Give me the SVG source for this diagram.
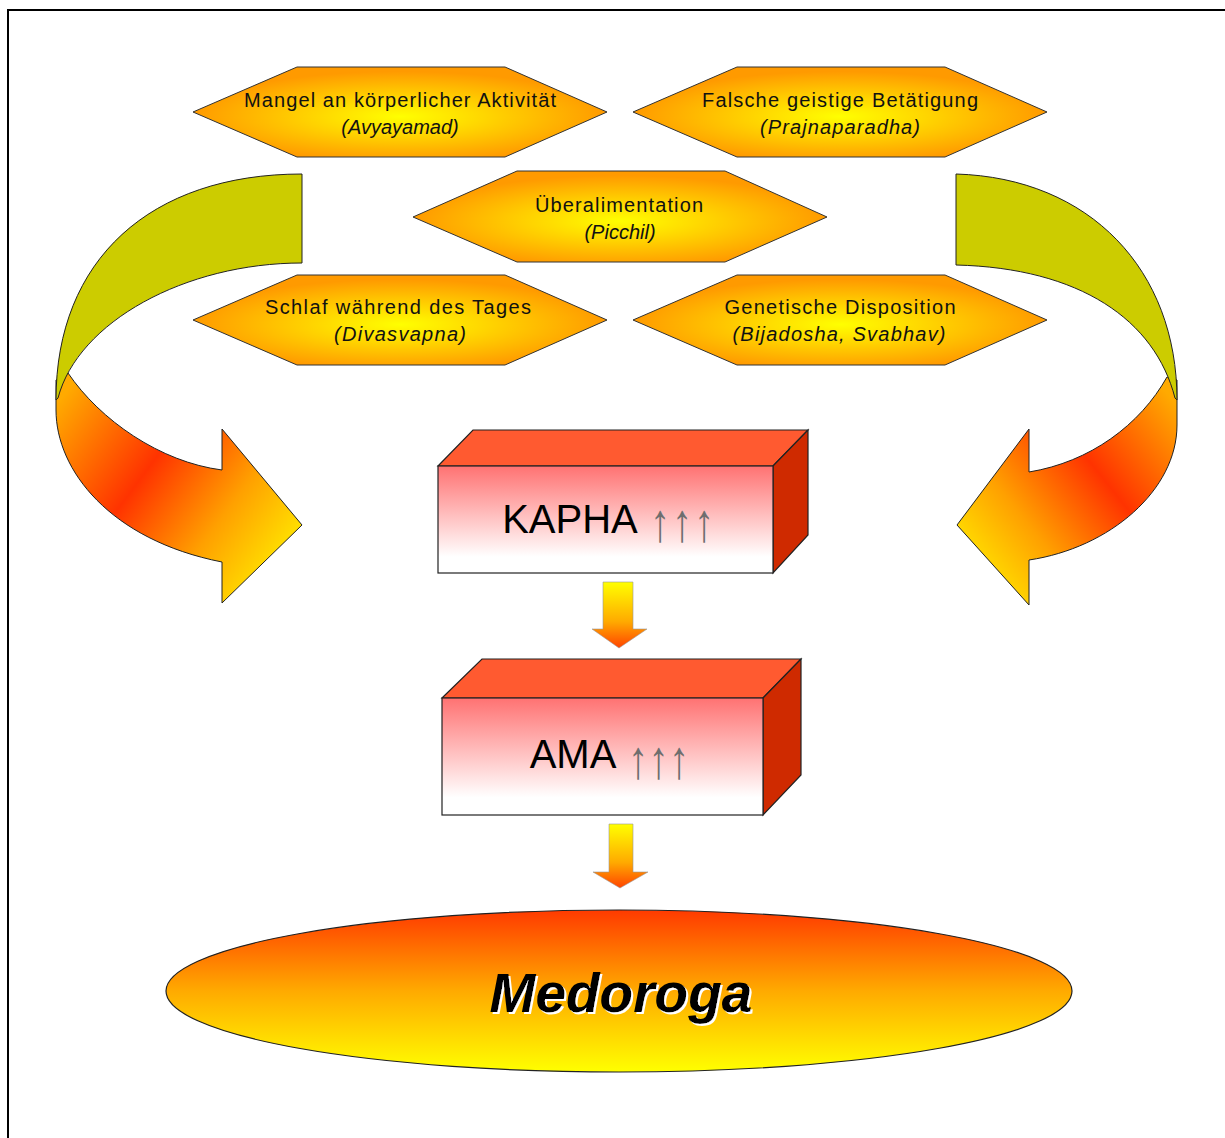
<svg xmlns="http://www.w3.org/2000/svg" width="1225" height="1138" viewBox="0 0 1225 1138">
<style>
.hex{fill:url(#hexG);stroke:#333;stroke-width:1}
.t1{font-family:"Liberation Sans",Arial,sans-serif;font-size:20px;fill:#111;text-anchor:middle}
.t2{font-family:"Liberation Sans",Arial,sans-serif;font-size:20px;fill:#111;text-anchor:middle;font-style:italic}
.olive{fill:#cccc00;stroke:#222;stroke-width:1}
.face{fill:url(#faceG);stroke:#222;stroke-width:1.2}
.top{fill:#ff5a30;stroke:#222;stroke-width:1.2}
.side{fill:#cf2a00;stroke:#222;stroke-width:1.2}
.big{font-family:"Liberation Sans",Arial,sans-serif;font-size:40px;fill:#000;text-anchor:middle}
.up{font-family:"Liberation Sans",Arial,sans-serif;font-size:40px;fill:#6e6e6e}
.small{fill:url(#smallG);stroke:#999;stroke-width:0.6}
</style>
<defs>
<radialGradient id="hexG" cx="0.5" cy="0.55" r="0.5">
<stop offset="0" stop-color="#ffff00"/>
<stop offset="0.45" stop-color="#ffd200"/>
<stop offset="1" stop-color="#ff9a00"/>
</radialGradient>
<linearGradient id="faceG" x1="0" y1="0" x2="0" y2="1">
<stop offset="0" stop-color="#ff7272"/>
<stop offset="0.85" stop-color="#ffffff"/>
<stop offset="1" stop-color="#ffffff"/>
</linearGradient>
<linearGradient id="smallG" x1="0" y1="0" x2="0" y2="1">
<stop offset="0" stop-color="#ffff00"/>
<stop offset="0.6" stop-color="#ffaa00"/>
<stop offset="1" stop-color="#ff4400"/>
</linearGradient>
<linearGradient id="ellG" x1="0" y1="0" x2="0" y2="1">
<stop offset="0" stop-color="#ff3a00"/>
<stop offset="0.5" stop-color="#ffaa00"/>
<stop offset="1" stop-color="#ffff00"/>
</linearGradient>
<linearGradient id="leftG" gradientUnits="userSpaceOnUse" x1="60" y1="400" x2="290" y2="570">
<stop offset="0" stop-color="#ffaa00"/>
<stop offset="0.39" stop-color="#ff3300"/>
<stop offset="0.7" stop-color="#ffa000"/>
<stop offset="1" stop-color="#ffee00"/>
</linearGradient>
<linearGradient id="rightG" gradientUnits="userSpaceOnUse" x1="1173" y1="400" x2="960" y2="570">
<stop offset="0" stop-color="#ffaa00"/>
<stop offset="0.38" stop-color="#ff3300"/>
<stop offset="0.7" stop-color="#ffa000"/>
<stop offset="1" stop-color="#ffee00"/>
</linearGradient>
<filter id="ws" x="-10%" y="-20%" width="120%" height="140%">
<feDropShadow dx="2" dy="2" stdDeviation="0.3" flood-color="#ffffff" flood-opacity="1"/>
</filter>
</defs>
<rect x="0" y="0" width="1225" height="1138" fill="#ffffff"/>
<path d="M8,1138 L8,10 L1225,10" fill="none" stroke="#000" stroke-width="2"/>

<g id="connectors">
<g id="arrow-left">
<path d="M56,380 L56,410 C56,470 110,540 222,562 L222,603 L302,525 L222,429 L222,470 C160,462 100,420 68,373 Z" fill="url(#leftG)" stroke="#222" stroke-width="1"/>
<path class="olive" d="M302,174 C150,174 56,260 56,400 L58,398 C78,322 185,263 302,263 Z"/>
</g>
<g id="arrow-right">
<path d="M1177,380 L1177,425 C1177,490 1110,548 1029,560 L1029,605 L957,525 L1029,429 L1029,472 C1090,462 1140,425 1167,377 Z" fill="url(#rightG)" stroke="#222" stroke-width="1"/>
<path class="olive" d="M956,174 C1090,178 1177,270 1177,400 L1175,398 C1155,320 1080,268 956,265 Z"/>
</g>
<path id="arrow-kapha-ama" class="small" d="M603,582 L633,582 L633,629 L647,629 L619,648 L592,629 L603,629 Z"/>
<path id="arrow-ama-medoroga" class="small" d="M609,824 L633,824 L633,872 L648,872 L620,888 L593,872 L609,872 Z"/>
</g>

<g id="node-mangel">
<polygon class="hex" points="193,112 297,67 505,67 607,112 505,157 297,157"/>
<text class="t1" x="400" y="107" textLength="312" lengthAdjust="spacing">Mangel an körperlicher Aktivität</text>
<text class="t2" x="400" y="134">(Avyayamad)</text>
</g>
<g id="node-falsche">
<polygon class="hex" points="633,112 737,67 945,67 1047,112 945,157 737,157"/>
<text class="t1" x="840" y="107" textLength="276" lengthAdjust="spacing">Falsche geistige Betätigung</text>
<text class="t2" x="840" y="134" textLength="160" lengthAdjust="spacing">(Prajnaparadha)</text>
</g>
<g id="node-ueberalimentation">
<polygon class="hex" points="413,217 517,171 725,171 827,217 725,262 517,262"/>
<text class="t1" x="619" y="212" textLength="168" lengthAdjust="spacing">Überalimentation</text>
<text class="t2" x="620" y="239">(Picchil)</text>
</g>
<g id="node-schlaf">
<polygon class="hex" points="193,320 297,275 505,275 607,320 505,365 297,365"/>
<text class="t1" x="398" y="314" textLength="266" lengthAdjust="spacing">Schlaf während des Tages</text>
<text class="t2" x="400" y="341" textLength="132" lengthAdjust="spacing">(Divasvapna)</text>
</g>
<g id="node-genetische">
<polygon class="hex" points="633,320 737,275 945,275 1047,320 945,365 737,365"/>
<text class="t1" x="840" y="314" textLength="231" lengthAdjust="spacing">Genetische Disposition</text>
<text class="t2" x="839" y="341" textLength="213" lengthAdjust="spacing">(Bijadosha, Svabhav)</text>
</g>

<g id="node-kapha">
<polygon class="top" points="438,466 473,430 808,430 773,466"/>
<polygon class="side" points="773,466 808,430 808,535 773,573"/>
<rect class="face" x="438" y="466" width="335" height="107"/>
<text class="big" x="570" y="533">KAPHA</text>
<text class="up" transform="translate(650,541) scale(1,1.36)" x="0" y="0" letter-spacing="2">↑↑↑</text>
</g>

<g id="node-ama">
<polygon class="top" points="442,698 482,659 801,659 763,698"/>
<polygon class="side" points="763,698 801,659 801,775 763,815"/>
<rect class="face" x="442" y="698" width="321" height="117"/>
<text class="big" x="573" y="768">AMA</text>
<text class="up" transform="translate(628,778) scale(1,1.36)" x="0" y="0" letter-spacing="0.5">↑↑↑</text>
</g>

<g id="node-medoroga">
<ellipse cx="619" cy="991" rx="453" ry="81" fill="url(#ellG)" stroke="#222" stroke-width="1.2"/>
<text x="621" y="1012" font-family="Liberation Sans, Arial, sans-serif" font-size="55" font-weight="bold" font-style="italic" text-anchor="middle" fill="#000" filter="url(#ws)">Medoroga</text>
</g>
</svg>
